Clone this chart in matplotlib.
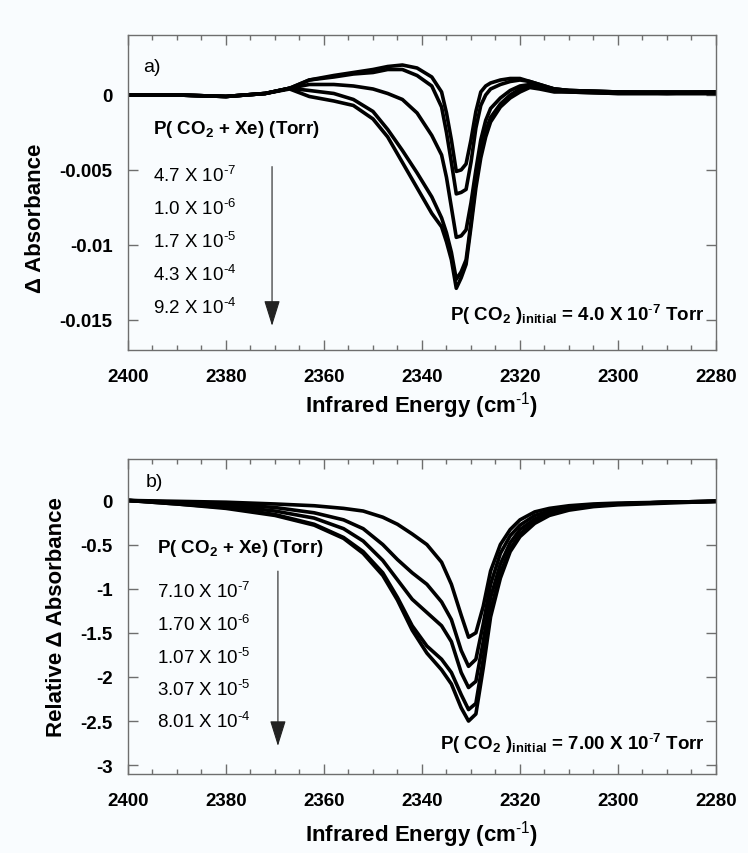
import matplotlib
matplotlib.use("Agg")
import matplotlib.pyplot as plt
from matplotlib.ticker import MultipleLocator

plt.rcParams['font.family'] = ['Liberation Sans', 'DejaVu Sans']
plt.rcParams['mathtext.fontset'] = 'custom'
plt.rcParams['mathtext.rm'] = 'Liberation Sans'
plt.rcParams['mathtext.bf'] = 'Liberation Sans:bold'
plt.rcParams['mathtext.it'] = 'Liberation Sans:italic'

# ---- panel a data (delta absorbance) ----
energy_a = [2400, 2390, 2380, 2372, 2367, 2363, 2358, 2354, 2350, 2347, 2344, 2341,
            2338, 2336, 2335, 2334, 2333, 2332, 2331, 2330, 2329, 2328, 2327, 2326,
            2324, 2322, 2320, 2318, 2316, 2313, 2310, 2300, 2290, 2280]
abs_a1 = [0, 0, -0.0001, 0.0001, 0.00045, 0.001, 0.0013, 0.0015, 0.0017, 0.0019, 0.002, 0.0018,
          0.0012, 0.0002, -0.0012, -0.003, -0.0051, -0.005, -0.0046, -0.003, -0.0011, 0.0002, 0.0006, 0.0008,
          0.001, 0.0011, 0.0011, 0.0009, 0.0007, 0.0004, 0.0003, 0.0002, 0.0002, 0.0002]
abs_a2 = [0, 0, -0.0001, 0.0001, 0.00045, 0.001, 0.0012, 0.0014, 0.0015, 0.0017, 0.0017, 0.0013,
          0.0006, -0.0008, -0.0025, -0.0045, -0.0066, -0.0065, -0.0063, -0.0045, -0.0022, -0.0007, 0.0, 0.0004,
          0.0007, 0.0009, 0.001, 0.0009, 0.0007, 0.0004, 0.0003, 0.0002, 0.0002, 0.0002]
abs_a3 = [0, 0, -0.0001, 0.0001, 0.00045, 0.0007, 0.0007, 0.0006, 0.0004, 0.0001, -0.0003, -0.0012,
          -0.0027, -0.004, -0.0055, -0.0075, -0.0095, -0.0094, -0.009, -0.0072, -0.005, -0.003, -0.0017, -0.0009,
          -0.0002, 0.0003, 0.0006, 0.0007, 0.0006, 0.0004, 0.0003, 0.0002, 0.0001, 0.0002]
abs_a4 = [0, 0, -0.0001, 0.0001, 0.00045, 0.0003, 0.0001, -0.0003, -0.0011, -0.0023, -0.0037, -0.0052,
          -0.0068, -0.0082, -0.0092, -0.0105, -0.0123, -0.0118, -0.011, -0.0085, -0.0058, -0.0038, -0.0024, -0.0015,
          -0.0006, 0.0, 0.0004, 0.0006, 0.0005, 0.0003, 0.0002, 0.0001, 0.0001, 0.0001]
abs_a5 = [0, 0, -0.0001, 0.0001, 0.0004, -0.0001, -0.0004, -0.0007, -0.0016, -0.0028, -0.0045, -0.0062,
          -0.0079, -0.0088, -0.0098, -0.011, -0.0129, -0.0122, -0.0113, -0.0088, -0.0062, -0.0042, -0.0028, -0.0018,
          -0.0008, -0.0002, 0.0002, 0.0005, 0.0004, 0.0002, 0.0002, 0.0001, 0.0001, 0.0001]
press_a = ["4.7", "1.0", "1.7", "4.3", "9.2"]
exp_a = ["-7", "-6", "-5", "-4", "-4"]

# ---- panel b data (relative delta absorbance) ----
energy_b = [2400, 2390, 2380, 2370, 2362, 2356, 2352, 2348, 2345, 2342, 2339, 2336, 2334, 2332,
            2330.5, 2329, 2327.5, 2326, 2324, 2322, 2320, 2317, 2314, 2310, 2305, 2300, 2290, 2280]
rel_b1 = [0, -0.01, -0.02, -0.04, -0.06, -0.09, -0.12, -0.19, -0.27, -0.38, -0.5, -0.7, -0.95, -1.3,
          -1.55, -1.5, -1.2, -0.8, -0.5, -0.33, -0.22, -0.13, -0.09, -0.06, -0.04, -0.03, -0.02, -0.01]
rel_b2 = [0, -0.02, -0.04, -0.08, -0.14, -0.22, -0.32, -0.5, -0.67, -0.82, -0.95, -1.15, -1.35, -1.7,
          -1.88, -1.8, -1.4, -0.95, -0.6, -0.4, -0.28, -0.17, -0.12, -0.08, -0.05, -0.04, -0.02, -0.01]
rel_b3 = [0, -0.03, -0.06, -0.12, -0.2, -0.32, -0.46, -0.68, -0.9, -1.12, -1.27, -1.42, -1.6, -1.95,
          -2.12, -2.05, -1.6, -1.1, -0.72, -0.48, -0.33, -0.21, -0.14, -0.09, -0.06, -0.04, -0.02, -0.01]
rel_b4 = [0, -0.04, -0.08, -0.16, -0.27, -0.42, -0.58, -0.82, -1.1, -1.42, -1.65, -1.8, -1.95, -2.2,
          -2.37, -2.3, -1.8, -1.25, -0.82, -0.55, -0.38, -0.24, -0.16, -0.1, -0.06, -0.04, -0.02, -0.01]
rel_b5 = [0, -0.04, -0.09, -0.17, -0.28, -0.43, -0.6, -0.85, -1.13, -1.47, -1.73, -1.92, -2.08, -2.35,
          -2.5, -2.42, -1.9, -1.32, -0.88, -0.58, -0.41, -0.26, -0.17, -0.11, -0.07, -0.05, -0.03, -0.01]
press_b = ["7.10", "1.70", "1.07", "3.07", "8.01"]
exp_b = ["-7", "-6", "-5", "-5", "-4"]

bg = '#f9fcfe'
spine_col = '#6e6e6e'

fig = plt.figure(figsize=(7.48, 8.54), dpi=100, facecolor=bg)
ax_a = fig.add_axes([0.1711, 0.5893, 0.7861, 0.3685], facecolor=bg)
ax_b = fig.add_axes([0.1711, 0.0925, 0.7861, 0.3689], facecolor=bg)


def style_axes(ax, ylim, yticks, ylabels):
    ax.set_xlim(2400, 2280)
    ax.set_ylim(*ylim)
    ax.xaxis.set_major_locator(MultipleLocator(20))
    ax.xaxis.set_minor_locator(MultipleLocator(5))
    ax.set_yticks(yticks)
    ax.set_yticklabels(ylabels)
    ax.tick_params(axis='both', which='both', direction='in', top=True, right=True,
                   color=spine_col, width=1)
    ax.tick_params(axis='both', which='major', length=7, labelsize=13.5)
    ax.tick_params(axis='both', which='minor', length=3.5)
    ax.tick_params(axis='x', pad=13)
    ax.tick_params(axis='y', pad=11)
    for lab in ax.get_xticklabels() + ax.get_yticklabels():
        lab.set_fontweight('bold')
    for sp in ax.spines.values():
        sp.set_color(spine_col)
        sp.set_linewidth(1.0)
    ax.set_xlabel('Infrared Energy (cm$^\\mathbf{\\text{-1}}$)', fontsize=16, fontweight='bold')


def press_label(p, e):
    return p + ' X 10$^{\\text{' + e + '}}$'


# panel a
for ys in [abs_a1, abs_a2, abs_a3, abs_a4, abs_a5]:
    ax_a.plot(energy_a, ys, color='black', lw=2.6, solid_joinstyle='round')
style_axes(ax_a, (-0.017, 0.004), [0, -0.005, -0.01, -0.015],
           ['0', '-0.005', '-0.01', '-0.015'])
ax_a.set_ylabel('Δ Absorbance', fontsize=16, fontweight='bold')
ax_a.yaxis.set_label_coords(-0.139, 0.42)
ax_a.xaxis.set_label_coords(0.5, -0.125)

ax_a.text(0.026, 0.90, 'a)', transform=ax_a.transAxes, fontsize=14, va='center')
ax_a.text(0.0425, 0.702, r'P( CO$_\mathbf{2}$ + Xe) (Torr)', transform=ax_a.transAxes,
          fontsize=13.5, fontweight='bold', va='center')
ya = [0.556, 0.452, 0.345, 0.24, 0.135]
for p, e, y in zip(press_a, exp_a, ya):
    ax_a.text(0.0425, y, press_label(p, e), transform=ax_a.transAxes,
              fontsize=13.5, va='center')
ax_a.annotate('', xy=(0.245, 0.076), xytext=(0.245, 0.582),
              xycoords='axes fraction', textcoords='axes fraction',
              arrowprops=dict(arrowstyle='-|>,head_length=0.8,head_width=0.25',
                              color='#222222', lw=0.8, mutation_scale=20,
                              shrinkA=0, shrinkB=0))
ax_a.text(0.981, 0.114, r'P( CO$_\mathbf{2}$ )$_\mathbf{initial}$ = 4.0 X 10$^\mathbf{\text{-}7}$ Torr',
          transform=ax_a.transAxes, fontsize=13.5, fontweight='bold', va='center', ha='right')

# panel b
for ys in [rel_b1, rel_b2, rel_b3, rel_b4, rel_b5]:
    ax_b.plot(energy_b, ys, color='black', lw=2.6, solid_joinstyle='round')
style_axes(ax_b, (-3.1, 0.47), [0, -0.5, -1, -1.5, -2, -2.5, -3],
           ['0', '-0.5', '-1', '-1.5', '-2', '-2.5', '-3'])
ax_b.set_ylabel('Relative Δ Absorbance', fontsize=16, fontweight='bold')
ax_b.yaxis.set_label_coords(-0.104, 0.5)
ax_b.xaxis.set_label_coords(0.5, -0.14)

ax_b.text(0.03, 0.927, 'b)', transform=ax_b.transAxes, fontsize=14, va='center')
ax_b.text(0.049, 0.72, r'P( CO$_\mathbf{2}$ + Xe) (Torr)', transform=ax_b.transAxes,
          fontsize=13.5, fontweight='bold', va='center')
yb = [0.581, 0.476, 0.371, 0.27, 0.168]
for p, e, y in zip(press_b, exp_b, yb):
    ax_b.text(0.049, y, press_label(p, e), transform=ax_b.transAxes,
              fontsize=13.5, va='center')
ax_b.annotate('', xy=(0.255, 0.089), xytext=(0.255, 0.644),
              xycoords='axes fraction', textcoords='axes fraction',
              arrowprops=dict(arrowstyle='-|>,head_length=0.8,head_width=0.25',
                              color='#222222', lw=0.8, mutation_scale=20,
                              shrinkA=0, shrinkB=0))
ax_b.text(0.981, 0.10, r'P( CO$_\mathbf{2}$ )$_\mathbf{initial}$ = 7.00 X 10$^\mathbf{\text{-}7}$ Torr',
          transform=ax_b.transAxes, fontsize=13.5, fontweight='bold', va='center', ha='right')

fig.savefig('out.png', dpi=100, facecolor=bg)
